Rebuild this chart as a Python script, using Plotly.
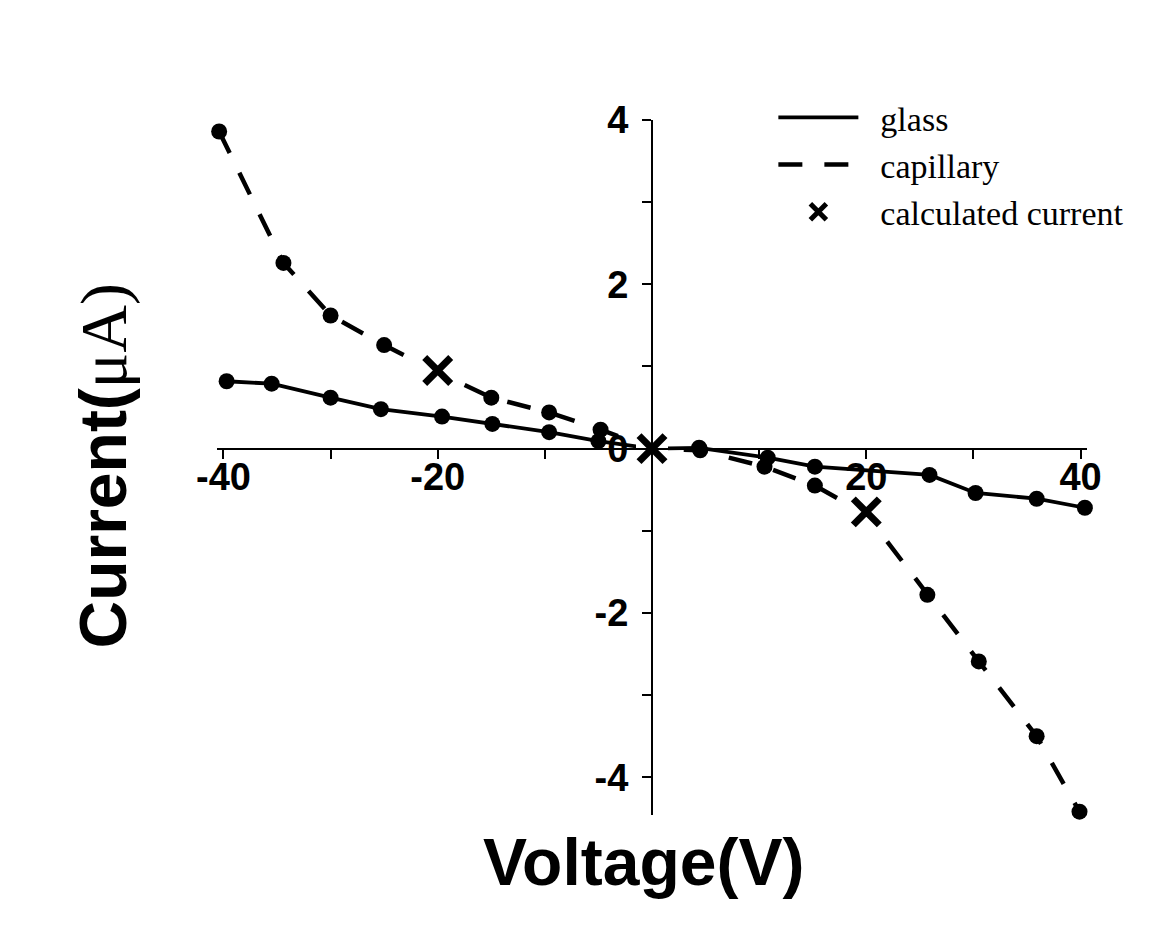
import plotly.graph_objects as go

# ---- data ----
glass_v = [-39.7, -35.5, -30.0, -25.3, -19.6, -14.9, -9.6, -5.0, 0.0, 4.4, 10.8, 15.2, 25.9, 30.2, 35.9, 40.4]
glass_i = [0.82, 0.79, 0.62, 0.48, 0.39, 0.30, 0.20, 0.09, 0.0, 0.01, -0.11, -0.22, -0.32, -0.54, -0.61, -0.72]

cap_v = [-40.4, -34.4, -30.0, -25.0, -20.0, -15.0, -9.6, -4.8, 0.0, 4.5, 10.5, 15.2, 20.0, 25.7, 30.5, 35.9, 39.9]
cap_i = [3.86, 2.26, 1.62, 1.26, 0.93, 0.62, 0.44, 0.23, 0.0, -0.02, -0.22, -0.45, -0.80, -1.78, -2.59, -3.50, -4.42]

calc_v = [-20.0, 0.0, 20.0]
calc_i = [0.95, 0.0, -0.77]

x_tickvals = [-40, -20, 20, 40]
x_ticktext = ["-40", "-20", "20", "40"]
x_minor = [-30, -10, 0, 10, 30]
y_tickvals = [4, 2, 0, -2, -4]
y_ticktext = ["4", "2", "0", "-2", "-4"]
y_minor = [3, 1, -1, -3]

x_range = [-40.6, 40.6]
y_range = [-4.46, 4]

SANS = "Liberation Sans"
SERIF = "Liberation Serif"
NB = "\u00a0\u00a0"

fig = go.Figure()

# lines (legend entries show line only)
fig.add_trace(go.Scatter(x=glass_v, y=glass_i, mode="lines", name=NB + "glass",
                         legendgroup="g", line=dict(color="black", width=3.8)))
fig.add_trace(go.Scatter(x=cap_v, y=cap_i, mode="lines", name=NB + "capillary",
                         legendgroup="c", line=dict(color="black", width=4.5, dash="24px,22px")))
# markers
fig.add_trace(go.Scatter(x=glass_v, y=glass_i, mode="markers", showlegend=False,
                         marker=dict(color="black", size=16), cliponaxis=False))
fig.add_trace(go.Scatter(x=cap_v, y=cap_i, mode="markers", showlegend=False,
                         marker=dict(color="black", size=16), cliponaxis=False))
# white box behind calculated-current crosses
fig.add_trace(go.Scatter(x=calc_v, y=calc_i, mode="markers", showlegend=False,
                         marker=dict(color="white", size=32, symbol="square"), cliponaxis=False))
fig.add_trace(go.Scatter(x=calc_v, y=calc_i, mode="markers", name=NB + "calculated current",
                         legendgroup="x",
                         marker=dict(symbol="x-thin", size=26, color="black",
                                     line=dict(color="black", width=7)),
                         cliponaxis=False))

y0_frac = (0 - y_range[0]) / (y_range[1] - y_range[0])
x0_frac = (0 - x_range[0]) / (x_range[1] - x_range[0])

fig.update_layout(
    width=1148, height=933,
    margin=dict(l=209, r=69, t=112, b=126),
    paper_bgcolor="white", plot_bgcolor="white",
    xaxis=dict(range=x_range, anchor="free", position=y0_frac,
               showline=True, linecolor="black", linewidth=2,
               showgrid=False, zeroline=False,
               tickvals=x_tickvals, ticktext=x_ticktext,
               ticks="outside", ticklen=9, tickwidth=2, tickcolor="black",
               minor=dict(tickvals=x_minor, ticks="outside", ticklen=9, tickwidth=2, tickcolor="black"),
               tickfont=dict(family=SANS, size=38, color="black", weight="bold"),
               ticklabelstandoff=-14),
    yaxis=dict(range=y_range, anchor="free", position=x0_frac,
               showline=True, linecolor="black", linewidth=2,
               showgrid=False, zeroline=False,
               tickvals=y_tickvals, ticktext=y_ticktext,
               ticks="outside", ticklen=9, tickwidth=2, tickcolor="black",
               minor=dict(tickvals=y_minor, ticks="outside", ticklen=9, tickwidth=2, tickcolor="black"),
               tickfont=dict(family=SANS, size=38, color="black", weight="bold"),
               ticklabelstandoff=6),
    legend=dict(x=0.6395, y=1.045, xanchor="left", yanchor="top",
                bgcolor="rgba(0,0,0,0)", itemwidth=80, tracegroupgap=0,
                font=dict(family=SERIF, size=34, color="black")),
    annotations=[
        dict(text="Voltage(V)", xref="paper", yref="paper", x=0.490, y=-0.068,
             xanchor="center", yanchor="middle", showarrow=False,
             font=dict(family=SANS, size=66, color="black", weight="bold")),
        dict(text="Current(<span style=\"font-family:'Liberation Serif';font-weight:normal\">μA)</span>",
             xref="paper", yref="paper", x=-0.1306, y=0.502,
             xanchor="center", yanchor="middle", showarrow=False, textangle=-90,
             font=dict(family=SANS, size=66, color="black", weight="bold")),
    ],
)

fig.write_html("out.html")
